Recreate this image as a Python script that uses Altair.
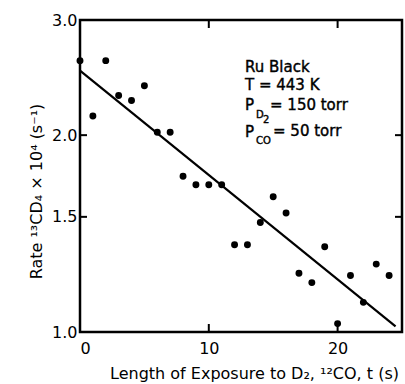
import altair as alt
import pandas as pd

# data
t_s = list(range(25))
rate = [2.60, 2.14, 2.60, 2.30, 2.26, 2.38, 2.02, 2.02, 1.73, 1.68, 1.68, 1.68,
        1.36, 1.36, 1.47, 1.61, 1.52, 1.23, 1.19, 1.35, 1.03, 1.22, 1.11, 1.27, 1.22]
fit_t = [0.0, 24.5]
fit_rate = [2.51, 1.02]
x_ticks = [0, 10, 20]
y_ticks = [1.0, 1.5, 2.0, 3.0]
x_inner_ticks = [10, 20]
y_inner_ticks = [1.5, 2.0]

W, H = 322, 312
FONT = "DejaVu Sans"

pts = pd.DataFrame({"t": t_s, "rate": rate})
fit = pd.DataFrame({"t": fit_t, "rate": fit_rate})
xt = pd.DataFrame({"t": x_inner_ticks})
yt = pd.DataFrame({"rate": y_inner_ticks})

x_enc = alt.X("t:Q", scale=alt.Scale(domain=[0, 25], nice=False, zero=False),
              axis=alt.Axis(values=x_ticks, title="Length of Exposure to D₂, ¹²CO, t (s)",
                            grid=False, domain=False, ticks=False, labelPadding=8,
                            titleX=174, titleY=46, titleBaseline="alphabetic"))
y_enc = alt.Y("rate:Q", scale=alt.Scale(type="log", domain=[1, 3], nice=False, zero=False),
              axis=alt.Axis(values=y_ticks, format=".1f", title="Rate ¹³CD₄ × 10⁴ (s⁻¹)",
                            grid=False, domain=False, ticks=False, labelPadding=3,
                            titleX=-36, titleY=171))

points = alt.Chart(pts).mark_circle(size=48, color="black", opacity=1).encode(x=x_enc, y=y_enc)
line = alt.Chart(fit).mark_line(color="black", strokeWidth=2.2).encode(x=x_enc, y=y_enc)

tick_style = dict(color="black", strokeWidth=2)
left_t = alt.Chart(yt).mark_rule(**tick_style).encode(y=y_enc, x=alt.value(0), x2=alt.value(7))
right_t = alt.Chart(yt).mark_rule(**tick_style).encode(y=y_enc, x=alt.value(W - 7), x2=alt.value(W))
bot_t = alt.Chart(xt).mark_rule(**tick_style).encode(x=x_enc, y=alt.value(H - 8), y2=alt.value(H))
top_t = alt.Chart(xt).mark_rule(**tick_style).encode(x=x_enc, y=alt.value(0), y2=alt.value(8))

# annotation
ann_main = ["Ru Black", "T = 443 K", "P", "P"]
ann_main_x = [165, 165, 165, 165]
ann_main_y = [52, 70, 90, 117]
ann_sub = ["D", "2", "CO"]
ann_sub_x = [176, 183, 176]
ann_sub_y = [98, 103, 124]
ann_val = ["= 150 torr", "= 50 torr"]
ann_val_x = [190, 193]
ann_val_y = [90, 116]


def txt(s, x, y, size):
    return alt.Chart(pd.DataFrame({"s": [s]})).mark_text(
        align="left", baseline="alphabetic", font=FONT, fontSize=size,
        fontWeight="normal", color="black", stroke="black", strokeWidth=0.4).encode(
        text="s:N", x=alt.value(x), y=alt.value(y))


texts = []
for s, x, y in zip(ann_main, ann_main_x, ann_main_y):
    texts.append(txt(s, x, y, 15))
for s, x, y in zip(ann_sub, ann_sub_x, ann_sub_y):
    texts.append(txt(s, x, y, 10))
for s, x, y in zip(ann_val, ann_val_x, ann_val_y):
    texts.append(txt(s, x, y, 15))

chart = alt.layer(line, points, left_t, right_t, bot_t, top_t, *texts).properties(
    width=W, height=H,
    autosize=alt.AutoSizeParams(type="none"),
    padding={"left": 80, "top": 20, "right": 3, "bottom": 52},
).configure_view(stroke="black", strokeWidth=2.5).configure_axis(
    labelFont=FONT, labelFontSize=16, labelFontWeight="normal", labelColor="black",
    titleFont=FONT, titleFontSize=16, titleFontWeight="normal", titleColor="black",
)

chart.save("out.html", embed_options={"renderer": "svg", "actions": False})
